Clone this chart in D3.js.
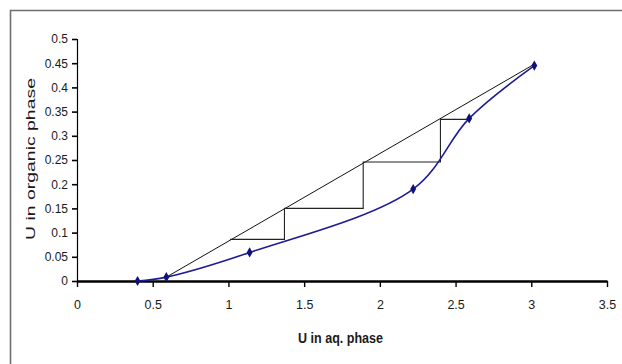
<!DOCTYPE html>
<html>
<head>
<meta charset="utf-8">
<script src="https://cdn.jsdelivr.net/npm/d3@7"></script>
<style>
  html, body { margin: 0; padding: 0; background: #fff; }
  svg { display: block; }
  text { font-family: "Liberation Sans", Arial, sans-serif; fill: #1a1a1a; }
</style>
</head>
<body>
<svg id="chart" width="622" height="364"></svg>
<script>
// Equilibrium data: uranium in aqueous vs organic phase
const aqU  = [0.40, 0.59, 1.14, 2.22, 2.59, 3.02];
const orgU = [0.000, 0.008, 0.059, 0.190, 0.336, 0.445];

// Operating line end points
const opX = [0.59, 3.02];
const opY = [0.008, 0.448];

// Stage construction (staircase)
const stepX = [1.01, 1.37, 1.37, 1.89, 1.89, 2.40, 2.40, 2.58];
const stepY = [0.086, 0.086, 0.150, 0.150, 0.246, 0.246, 0.334, 0.334];

// Axis ticks
const xTicks = [0, 0.5, 1, 1.5, 2, 2.5, 3, 3.5];
const xTickLabels = ["0", "0.5", "1", "1.5", "2", "2.5", "3", "3.5"];
const yTicks = [0, 0.05, 0.1, 0.15, 0.2, 0.25, 0.3, 0.35, 0.4, 0.45, 0.5];
const yTickLabels = ["0", "0.05", "0.1", "0.15", "0.2", "0.25", "0.3", "0.35", "0.4", "0.45", "0.5"];

const svg = d3.select("#chart");

// Outer chart frame (only top and left edges fall inside the view)
svg.append("path")
  .attr("d", "M10.5,364 L10.5,10.5 L622,10.5")
  .attr("fill", "none")
  .attr("stroke", "#6e6e6e")
  .attr("stroke-width", 1.6);

const x = d3.scaleLinear().domain([0, 3.5]).range([77, 607]);
const y = d3.scaleLinear().domain([0, 0.5]).range([281, 39]);

// Y axis
const yAxis = d3.axisLeft(y)
  .tickValues(yTicks)
  .tickFormat((d, i) => yTickLabels[i])
  .tickSize(5)
  .tickPadding(4);
const gy = svg.append("g").attr("transform", `translate(${x(0)},0)`).call(yAxis);
gy.select(".domain").attr("stroke", "#000").attr("stroke-width", 1.2);
gy.selectAll(".tick line").attr("stroke", "#000").attr("stroke-width", 1.6);
gy.selectAll(".tick text")
  .style("font-size", "12px")
  .style("font-family", "'Liberation Sans', Arial, sans-serif")
  .attr("fill", "#1a1a1a");

// X axis
const xAxis = d3.axisBottom(x)
  .tickValues(xTicks)
  .tickFormat((d, i) => xTickLabels[i])
  .tickSize(6)
  .tickSizeOuter(0)
  .tickPadding(13);
const gx = svg.append("g").attr("transform", `translate(0,${y(0)})`).call(xAxis);
gx.select(".domain").attr("stroke", "#000").attr("stroke-width", 2.6);
gx.selectAll(".tick line").attr("stroke", "#000").attr("stroke-width", 1.4);
gx.selectAll(".tick text")
  .style("font-size", "12.5px")
  .style("font-family", "'Liberation Sans', Arial, sans-serif")
  .attr("fill", "#1a1a1a");

// Axis titles
svg.append("text")
  .attr("x", 298).attr("y", 343)
  .attr("textLength", 85)
  .attr("lengthAdjust", "spacingAndGlyphs")
  .style("font-size", "14px")
  .style("font-weight", "bold")
  .attr("fill", "#222")
  .text("U in aq. phase");

svg.append("text")
  .attr("transform", "translate(35,240) rotate(-90)")
  .attr("x", 0).attr("y", 0)
  .attr("textLength", 162)
  .attr("lengthAdjust", "spacingAndGlyphs")
  .style("font-size", "13px")
  .attr("fill", "#222")
  .text("U in organic phase");

// Operating line
svg.append("line")
  .attr("x1", x(opX[0])).attr("y1", y(opY[0]))
  .attr("x2", x(opX[1])).attr("y2", y(opY[1]))
  .attr("stroke", "#111")
  .attr("stroke-width", 1);

// Staircase of stages
const stepLine = d3.line().x(d => x(d[0])).y(d => y(d[1]));
svg.append("path")
  .datum(stepX.map((v, i) => [v, stepY[i]]))
  .attr("d", stepLine)
  .attr("fill", "none")
  .attr("stroke", "#222")
  .attr("stroke-width", 1.1);

// Equilibrium curve (smoothed)
const eqPts = aqU.map((v, i) => [v, orgU[i]]);
const eqLine = d3.line()
  .x(d => x(d[0])).y(d => y(d[1]))
  .curve(d3.curveCatmullRom.alpha(0.5));
svg.append("path")
  .datum(eqPts)
  .attr("d", eqLine)
  .attr("fill", "none")
  .attr("stroke", "#1c1c96")
  .attr("stroke-width", 1.6);

// Diamond markers
const diamond = d3.symbol().type(d3.symbolDiamond).size(30);
svg.append("g").selectAll("path")
  .data(eqPts)
  .join("path")
  .attr("transform", d => `translate(${x(d[0])},${y(d[1])})`)
  .attr("d", diamond)
  .attr("fill", "#10107a");
</script>
</body>
</html>
